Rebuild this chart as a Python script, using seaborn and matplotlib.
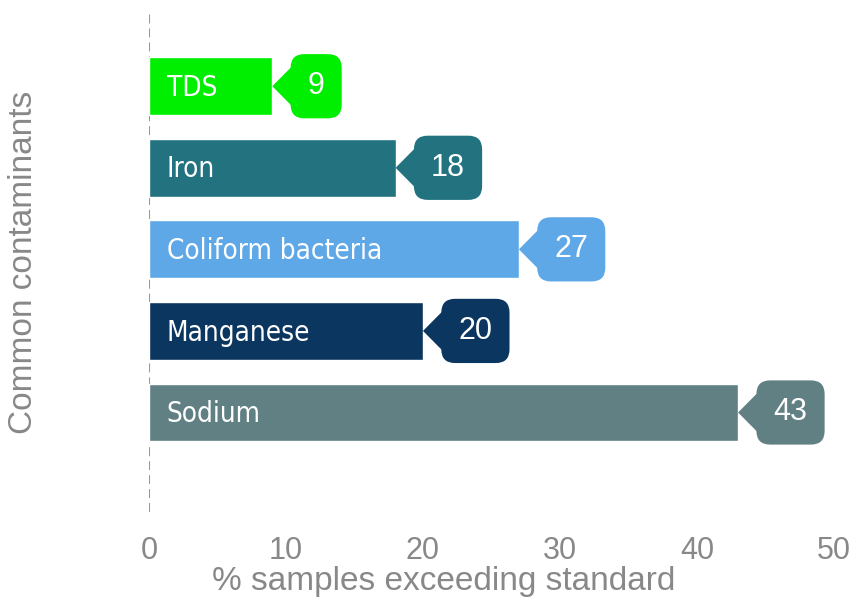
import matplotlib
matplotlib.use("Agg")
import matplotlib.pyplot as plt
from matplotlib import font_manager
from matplotlib.font_manager import FontProperties
from matplotlib.patches import Polygon
import seaborn as sns
import pandas as pd

categories = ["TDS", "Iron", "Coliform bacteria", "Manganese", "Sodium"]
values = [9, 18, 27, 20, 43]
colors = ["#00ee00", "#22737f", "#5fa8e8", "#0a365f", "#618083"]
xticks = [0, 10, 20, 30, 40, 50]
xlabel = "% samples exceeding standard"
ylabel = "Common contaminants"

sns.set_theme(style="white")
plt.rcParams["font.family"] = ["Liberation Sans", "DejaVu Sans"]

# look for a condensed face for the in-bar labels
cands = [f for f in font_manager.fontManager.ttflist
         if ("narrow" in f.name.lower() or "condensed" in f.name.lower()
             or str(f.stretch).lower() in ("condensed", "semi-condensed"))
         and str(f.style) == "normal" and str(f.weight) in ("400", "normal", "regular")]
if cands:
    label_fp = FontProperties(fname=cands[0].fname, size=20)
else:
    label_fp = FontProperties(family="Roboto", size=19)

df = pd.DataFrame({"cat": categories, "val": values})

fig = plt.figure(figsize=(8.54, 6.0), dpi=100)
ax = fig.add_axes([149/854, 1 - 512/600, (834 - 149)/854, 500/600])

sns.barplot(data=df, x="val", y="cat", hue="cat", palette=colors,
            order=categories, hue_order=categories, orient="h",
            width=0.71, legend=False, ax=ax, saturation=1)

ax.set_xlim(0, 50)
ax.set_ylim(5.22, -0.91)
ax.axvline(0, color="#999999", lw=1.5, ls=(0, (4.3, 2.4)), zorder=0)
for s in ax.spines.values():
    s.set_visible(False)
ax.set_yticks([])
ax.set_xticks(xticks)
ax.set_xticklabels([str(t) for t in xticks])
ax.tick_params(axis="x", length=0, labelsize=22, colors="#888888", pad=17)
ax.set_xlabel(xlabel, fontsize=24, color="#888888")
ax.set_ylabel(ylabel, fontsize=24, color="#888888")
ax.xaxis.set_label_coords(0.43, -0.108)
ax.yaxis.set_label_coords(-0.16, 0.5)

pxu = 50 / 685.0  # data units per pixel in x
for i, (c, v, col) in enumerate(zip(categories, values, colors)):
    ax.text(1.3, i + 0.02, c, color="white", fontproperties=label_fp,
            ha="left", va="center")
    tri = Polygon([[v, i], [v + 19 * pxu, i - 0.235], [v + 19 * pxu, i + 0.235]],
                  closed=True, fc=col, ec="none")
    ax.add_patch(tri)
    ax.annotate(str(v), xy=(v, i), xytext=(25.5, 0), textcoords="offset points",
                ha="left", va="center", fontsize=22, color="white",
                bbox=dict(boxstyle="round,pad=0.56,rounding_size=0.45",
                          fc=col, ec="none"))

fig.savefig("out.png", dpi=100)
